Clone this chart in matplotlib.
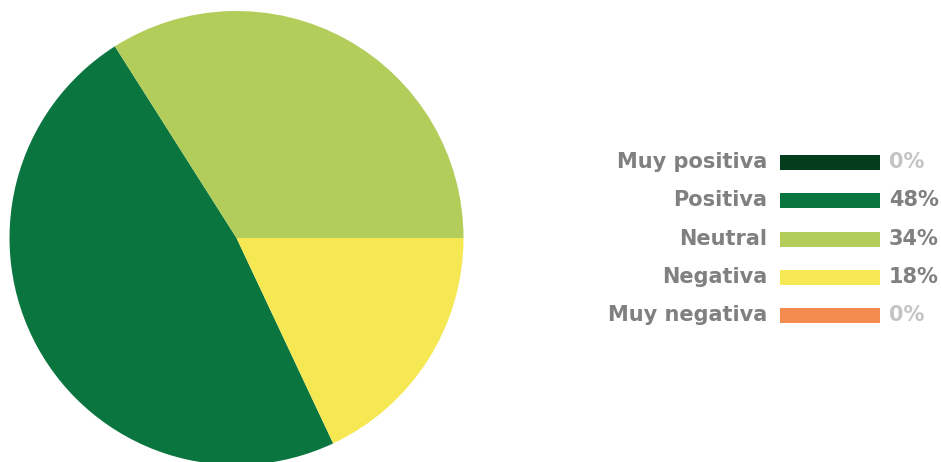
import matplotlib.pyplot as plt

categories = ['Muy positiva', 'Positiva', 'Neutral', 'Negativa', 'Muy negativa']
values = [0, 48, 34, 18, 0]
colors = ['#033d1e', '#0b7540', '#b3cd5a', '#f5e853', '#f48b4f']

text_gray = '#808080'
zero_gray = '#c4c4c4'

fig = plt.figure(figsize=(9.41, 4.62), dpi=100)

# pie, clockwise, Negativa ending at 3 o'clock
ax = fig.add_axes([9.5 / 941, -3 / 462, 454 / 941, 454 / 462])
ax.pie(values, colors=colors, startangle=-64.8, counterclock=False,
       radius=1, wedgeprops=dict(linewidth=0))
ax.set_xlim(-1, 1)
ax.set_ylim(-1, 1)
ax.set_aspect('equal')
ax.axis('off')

# legend drawn by hand in pixel coordinates
lg = fig.add_axes([0, 0, 1, 1])
lg.set_xlim(0, 941)
lg.set_ylim(462, 0)
lg.axis('off')
lg.patch.set_alpha(0)

rows = [162, 200, 239, 277, 315]
lg.barh(rows, [100] * len(rows), left=780, height=15, color=colors)
for y, name, v in zip(rows, categories, values):
    lg.text(767, y, name, ha='right', va='center', fontsize=15,
            fontweight='bold', color=text_gray)
    lg.text(889, y, f'{v}%', ha='left', va='center', fontsize=15,
            fontweight='bold', color=zero_gray if v == 0 else text_gray)

fig.savefig('out.png', dpi=100)
